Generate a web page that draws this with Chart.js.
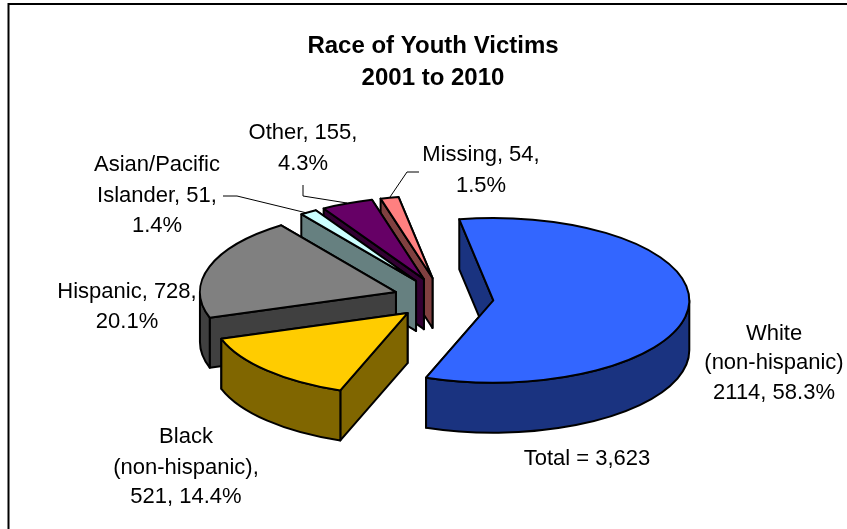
<!DOCTYPE html>
<html>
<head>
<meta charset="utf-8">
<title>Race of Youth Victims</title>
<script src="https://cdn.jsdelivr.net/npm/chart.js@4"></script>
<style>
  html, body { margin: 0; padding: 0; background: #fff; }
  canvas { display: block; }
</style>
</head>
<body>
<canvas id="chart-container" width="847" height="529"></canvas>
<script>
const categories = ['White (non-hispanic)', 'Black (non-hispanic)', 'Hispanic', 'Asian/Pacific Islander', 'Other', 'Missing']
const victims = [2114, 521, 728, 51, 155, 54]
const percents = ['58.3%', '14.4%', '20.1%', '1.4%', '4.3%', '1.5%']
const titleLines = ['Race of Youth Victims', '2001 to 2010']
const totalLabel = 'Total = 3,623'

const topColors = ['#3366ff', '#ffcc00', '#808080', '#ccffff', '#660066', '#ff8080']
const wallColors = ['#1a3380', '#806600', '#404040', '#668080', '#330033', '#804040']

// how the flat pie gets tilted, pushed apart and given a height
const PIE_X = 443.5
const PIE_Y = 298.5
const TILT = 0.42
const EXPLODE = 50
const DEPTH = 50

const LABEL_FONT = '22px "Liberation Sans", Arial, sans-serif'

// label text per slice, line breaks as in the original, centre x and middle y per line
const labelLayout = [
  { x: 774, lines: [['White', 334], ['(non-hispanic)', 363], [`${victims[0]}, ${percents[0]}`, 393]] },
  { x: 186, lines: [['Black', 437], ['(non-hispanic),', 468], [`${victims[1]}, ${percents[1]}`, 497]] },
  { x: 127, lines: [[`Hispanic, ${victims[2]},`, 292], [percents[2], 322]] },
  { x: 157, lines: [['Asian/Pacific', 165], [`Islander, ${victims[3]},`, 196], [percents[3], 226]] },
  { x: 303, lines: [[`Other, ${victims[4]},`, 133], [percents[4], 164]] },
  { x: 481, lines: [[`Missing, ${victims[5]},`, 155], [percents[5], 186]] },
]

const leaderLines = [
  [[223, 196], [237, 196], [307, 213]],
  [[303, 185], [303, 196], [347, 203]],
  [[419, 172], [407, 172], [390, 197]],
]

function strokeFill(ctx, fill) {
  ctx.fillStyle = fill
  ctx.fill()
  ctx.stroke()
}

function drawSlice(ctx, arc, i) {
  const { startAngle: start, endAngle: end, outerRadius: r } = arc
  const mid = (start + end) / 2
  const cx = PIE_X + Math.cos(mid) * EXPLODE
  const cy = PIE_Y + Math.sin(mid) * EXPLODE * TILT

  ctx.strokeStyle = '#000'
  ctx.lineWidth = 2
  ctx.lineJoin = 'round'

  // cut faces, the far one first
  for (const a of [end, start]) {
    const ex = cx + Math.cos(a) * r
    const ey = cy + Math.sin(a) * r * TILT
    ctx.beginPath()
    ctx.moveTo(cx, cy)
    ctx.lineTo(ex, ey)
    ctx.lineTo(ex, ey + DEPTH)
    ctx.lineTo(cx, cy + DEPTH)
    ctx.closePath()
    strokeFill(ctx, wallColors[i])
  }

  // rim, only the part on the viewer's side
  const from = Math.max(start, 0)
  const to = Math.min(end, Math.PI)
  if (from < to) {
    ctx.beginPath()
    ctx.ellipse(cx, cy, r, r * TILT, 0, from, to)
    ctx.ellipse(cx, cy + DEPTH, r, r * TILT, 0, to, from, true)
    ctx.closePath()
    strokeFill(ctx, wallColors[i])
  }

  // top face comes from the library's own arc, squashed
  ctx.save()
  ctx.translate(cx, cy)
  ctx.scale(1, TILT)
  ctx.translate(-arc.x, -arc.y)
  arc.draw(ctx)
  ctx.restore()

  ctx.beginPath()
  ctx.moveTo(cx, cy)
  ctx.ellipse(cx, cy, r, r * TILT, 0, start, end)
  ctx.closePath()
  ctx.stroke()
}

const pie3d = {
  id: 'pie3d',
  beforeDraw(chart) {
    const ctx = chart.ctx
    ctx.save()
    ctx.strokeStyle = '#000'
    ctx.lineWidth = 2
    ctx.beginPath()
    ctx.moveTo(8.5, 529)
    ctx.lineTo(8.5, 4)
    ctx.lineTo(847, 4)
    ctx.stroke()
    ctx.restore()
  },
  beforeDatasetDraw(chart) {
    const ctx = chart.ctx
    const arcs = chart.getDatasetMeta(0).data
    ctx.save()
    for (let i = arcs.length - 1; i >= 0; i--) {
      drawSlice(ctx, arcs[i], i)
    }
    ctx.restore()
    return false
  },
  afterDatasetsDraw(chart) {
    const ctx = chart.ctx
    ctx.save()
    ctx.strokeStyle = '#000'
    ctx.lineWidth = 1
    for (const line of leaderLines) {
      ctx.beginPath()
      line.forEach(([x, y], n) => n ? ctx.lineTo(x, y) : ctx.moveTo(x, y))
      ctx.stroke()
    }
    ctx.fillStyle = '#000'
    ctx.font = LABEL_FONT
    ctx.textAlign = 'center'
    ctx.textBaseline = 'middle'
    for (const label of labelLayout) {
      for (const [text, y] of label.lines) {
        ctx.fillText(text, label.x, y)
      }
    }
    ctx.fillText(totalLabel, 587, 459)
    ctx.restore()
  },
}

new Chart(document.getElementById('chart-container'), {
  type: 'pie',
  data: {
    labels: categories,
    datasets: [{
      data: victims,
      backgroundColor: topColors,
      borderWidth: 0,
      radius: 196,
    }],
  },
  options: {
    responsive: false,
    animation: false,
    rotation: -10,
    layout: { padding: { left: 19 } },
    plugins: {
      legend: { display: false },
      tooltip: { enabled: false },
      title: {
        display: true,
        text: titleLines,
        color: '#000',
        font: { family: '"Liberation Sans", Arial, sans-serif', size: 24, weight: 'bold', lineHeight: 1.33 },
        padding: { top: 30, bottom: 0 },
      },
    },
  },
  plugins: [pie3d],
})
</script>
</body>
</html>
